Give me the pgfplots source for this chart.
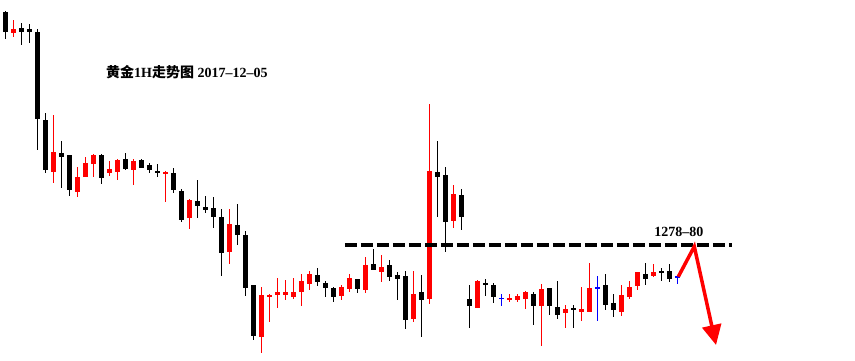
\documentclass[border=0pt]{standalone}
\usepackage{fontspec}
\setmainfont{Liberation Serif}
\newfontfamily\cjk{Noto Sans CJK SC}
\usepackage{pgfplots}
\usepackage{pgfplotstable}
\pgfplotsset{compat=1.18}
\usetikzlibrary{arrows.meta}

% candle index, body top, body bottom, wick top, wick bottom (chart units, downward)
\pgfplotstableread{
x bt bb wt wb
0 12 31.7 11.3 39.3
2 28 31.7 23.3 45.3
3 29 31.7 24 43.3
4 32 119.3 29.3 150
5 120 170 113.3 172.7
7 153.3 156.7 141 188.3
8 155 190 155 196
12 155 177.7 154 184.3
15 159 169 153 170
17 160 167.7 159 168.3
18 164.7 170 162.7 172.7
19 171 172.7 164 176.7
21 173.3 190 168.3 192.7
22 191 220 189.3 221.7
24 201 205.7 180 217.7
25 207 209.7 196 212.7
26 208.3 216.7 197.3 227.7
27 217 252.7 209.3 275.7
29 225 234.7 204 245
30 235 287.7 231 295.7
31 285 335.7 285 340
39 275 281.7 268 285.7
40 283.3 287.7 281 296.7
41 287.7 296.7 286.7 301.7
44 279 288.7 279 292.7
46 264 270 249 270
48 265 276.7 260 280.7
49 275 278.7 272 300
50 276 319.7 271 328.7
52 292 300 275 336.7
54 172 177 141 217
55 175 221.7 167 251.7
57 195 216.7 189 229.7
58 299 305.7 285 328.3
60 282.7 284.3 279 295.7
61 285 296.7 282.7 303.3
66 294 305.7 292 325
68 288 305.7 288 314.7
69 307 314.7 281 319
71 308.3 309.7 305 327.7
75 285 304.7 273.7 309.7
76 303 309.7 294 316.7
80 274 278.7 263.3 285
82 271 272.7 267.7 280.7
83 271 278.7 263.7 281.7
}\blackc

\pgfplotstableread{
x bt bb wt wb
1 29 32.7 20 37.3
6 152 171.7 115 183.3
9 177.3 191.7 166.7 197.3
10 163 176.7 156.7 177.3
11 155.3 164.3 154.3 176.7
13 169 172.7 161 175.7
14 160 171.7 159 180
16 161 170 159 185
20 171.7 173.7 171 201.7
23 200 217.7 199.3 229
28 224 251.7 209.3 263.7
32 295 336.7 286.7 352.7
33 295 296.7 294 321.7
34 292.3 294.7 278 307.7
35 292.3 294.7 280 299.7
36 292.3 296.7 278 298.7
37 281 291.7 274 305.7
38 274 283.7 271 289.7
42 287 295.7 285 299.7
43 278 288.7 274 291.7
45 265 289.7 257 292.7
47 267 272 255 282
51 294 319.3 271 321.7
53 171 299 104 303.7
56 194 220.7 185 227.7
59 280.7 307.7 280 307.7
63 297.7 300.3 294.3 301.7
64 296 300 294 301.7
65 291.7 299 290.7 309
67 289 305.7 284.3 346
70 309 312.7 305 327.7
72 309 311.7 287 320.7
73 288 311.7 263.3 311.7
77 295 311.7 285 315.7
78 287 297 281 299
79 272 285.7 271.7 289.7
81 272 275.7 263.7 276.7
}\redc

\pgfplotstableread{
x bt bb wt wb
62 297.8 298.8 294 305.7
74 287.2 288.2 276 320.7
84 276.2 277.2 276.7 283.7
}\bluec

\pgfplotsset{
  wick/.style={draw=none, mark=none, error bars/.cd, y dir=both, y explicit, error mark=none, error bar style={line width=1.1pt, draw=#1, solid}},
  body/.style={draw=none, mark=none, error bars/.cd, y dir=both, y explicit, error mark=none, error bar style={line width=5pt, draw=#1, solid}},
}

\begin{document}
\begin{tikzpicture}
\begin{axis}[scale only axis, width=855pt, height=360pt,
  xmin=-0.6625, xmax=106.2125, ymin=0, ymax=360, y dir=reverse,
  hide axis, clip=false]
\path[fill=white] (rel axis cs:0,0) rectangle (rel axis cs:1,1);

\addplot[wick=black] table[x=x, y expr={(\thisrow{wt}+\thisrow{wb})/2}, y error expr={(\thisrow{wb}-\thisrow{wt})/2}] {\blackc};
\addplot[body=black] table[x=x, y expr={(\thisrow{bt}+\thisrow{bb})/2}, y error expr={(\thisrow{bb}-\thisrow{bt})/2}] {\blackc};
\addplot[wick=red] table[x=x, y expr={(\thisrow{wt}+\thisrow{wb})/2}, y error expr={(\thisrow{wb}-\thisrow{wt})/2}] {\redc};
\addplot[body=red] table[x=x, y expr={(\thisrow{bt}+\thisrow{bb})/2}, y error expr={(\thisrow{bb}-\thisrow{bt})/2}] {\redc};
\addplot[wick=blue] table[x=x, y expr={(\thisrow{wt}+\thisrow{wb})/2}, y error expr={(\thisrow{wb}-\thisrow{wt})/2}] {\bluec};
\addplot[body=blue] table[x=x, y expr={(\thisrow{bt}+\thisrow{bb})/2}, y error expr={(\thisrow{bb}-\thisrow{bt})/2}] {\bluec};

% resistance line 1278-80
\addplot[black, line width=4pt, dash pattern=on 12pt off 4pt] coordinates {(42.46,245) (90.84,245)};
\node[font=\bfseries\fontsize{14}{14}\selectfont] at (axis cs:84.2,231.7) {1278--80};

% forecast arrow
\addplot[red, line width=3.5pt, line join=miter, -{Triangle[length=20pt, width=19pt]}] coordinates {(84.125,276.7) (86.125,246.5) (88.84,345)};

% title
\node[anchor=west, inner sep=0pt, font=\fontsize{14}{14}\selectfont] at (axis cs:12.59,72.5)
  {{\cjk\bfseries 黄金}\textbf{1H}{\cjk\bfseries 走势图}\ \textbf{2017--12--05}};
\end{axis}
\end{tikzpicture}
\end{document}
